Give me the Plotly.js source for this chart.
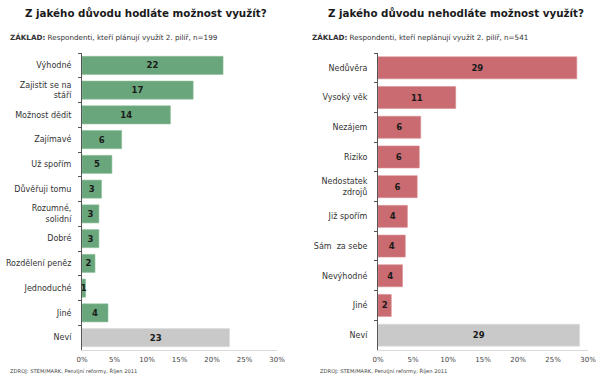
<!DOCTYPE html>
<html>
<head>
<meta charset="utf-8">
<script src="https://cdn.plot.ly/plotly-3.0.1.min.js"></script>
<style>html,body{margin:0;padding:0;background:#fff;}#chart{width:610px;height:378px;}</style>
</head>
<body>
<div id="chart"></div>
<script>
// Left chart: reasons for using the pillar
const leftCategories = ["Výhodné", "Zajistit se na<br>stáří", "Možnost dědit", "Zajímavé", "Už spořím", "Důvěřuji tomu", "Rozumné,<br>solidní", "Dobré", "Rozdělení peněz", "Jednoduché", "Jiné", "Neví"];
const leftValues = [21.7, 17.1, 13.6, 6.1, 4.6, 3.0, 2.6, 2.6, 2.0, 0.55, 4.0, 22.7];
const leftLabels = ["22", "17", "14", "6", "5", "3", "3", "3", "2", "1", "4", "23"];

// Right chart: reasons for not using the pillar
const rightCategories = ["Nedůvěra", "Vysoký věk", "Nezájem", "Riziko", "Nedostatek<br>zdrojů", "Již spořím", "Sám  za sebe", "Nevýhodné", "Jiné", "Neví"];
const rightValues = [28.4, 11.1, 6.1, 5.9, 5.6, 4.2, 3.9, 3.5, 1.9, 28.8];
const rightLabels = ["29", "11", "6", "6", "6", "4", "4", "4", "2", "29"];

const tickValues = [0, 5, 10, 15, 20, 25, 30];
const tickTexts = ["0%", "5%", "10%", "15%", "20%", "25%", "30%"];

const titleLeft = "Z jakého důvodu hodláte možnost využít?";
const titleRight = "Z jakého důvodu nehodláte možnost využít?";
const baseLeft = "<b>ZÁKLAD:</b> Respondenti, kteří plánují využít 2. pilíř, n=199";
const baseRight = "<b>ZÁKLAD:</b> Respondenti, kteří neplánují využít 2. pilíř, n=541";
const sourceText = "ZDROJ: STEM/MARK, Penzijní reformy, Říjen 2011";

const GREEN = "#6aa67b", RED = "#c96b70", GREY = "#c9c9c9";

function colors(n, c) { return Array.from({length: n}, (_, i) => i === n - 1 ? GREY : c); }
function lineColors(n, c) { return Array.from({length: n}, (_, i) => i === n - 1 ? "#dcdcdc" : c); }

const font = "DejaVu Sans, Verdana, sans-serif";

const traces = [
  {
    type: "bar", orientation: "h",
    x: leftValues, y: leftCategories,
    xaxis: "x", yaxis: "y",
    width: 0.73,
    marker: {color: colors(leftValues.length, GREEN), line: {color: lineColors(leftValues.length, "#8cbf99"), width: 0.6}},
    text: leftLabels, textposition: "inside", insidetextanchor: "middle",
    textangle: 0, constraintext: "none", cliponaxis: false,
    textfont: {family: font, size: 8.5, color: "#1a1a1a", weight: "bold"},
    hoverinfo: "skip"
  },
  {
    type: "bar", orientation: "h",
    x: rightValues, y: rightCategories,
    xaxis: "x2", yaxis: "y2",
    width: 0.74,
    marker: {color: colors(rightValues.length, RED), line: {color: lineColors(rightValues.length, "#d98f93"), width: 0.6}},
    text: rightLabels, textposition: "inside", insidetextanchor: "middle",
    textangle: 0, constraintext: "none", cliponaxis: false,
    textfont: {family: font, size: 8.5, color: "#1a1a1a", weight: "bold"},
    hoverinfo: "skip"
  }
];

const xCommon = {
  range: [0, 30], tickmode: "array", tickvals: tickValues, ticktext: tickTexts,
  showgrid: false, zeroline: false, showline: true, linecolor: "#dadada", linewidth: 1,
  ticks: "", tickfont: {family: font, size: 7, color: "#444"}, ticklabelstandoff: 3, fixedrange: true
};
const yCommon = {
  type: "category", autorange: "reversed",
  showgrid: false, zeroline: false, showline: true, linecolor: "#555", linewidth: 1,
  ticks: "outside", tickson: "boundaries", ticklen: 3, tickcolor: "#555",
  tickfont: {family: font, size: 8, color: "#333"}, ticklabelstandoff: 8, fixedrange: true
};

const layout = {
  width: 610, height: 378,
  margin: {l: 0, r: 0, t: 0, b: 0},
  paper_bgcolor: "#fff", plot_bgcolor: "#fff",
  showlegend: false,
  bargap: 0.27,
  xaxis: Object.assign({}, xCommon, {domain: [82/610, 277/610], anchor: "y"}),
  yaxis: Object.assign({}, yCommon, {domain: [28/378, 325/378], anchor: "x"}),
  xaxis2: Object.assign({}, xCommon, {domain: [378/610, 588/610], anchor: "y2"}),
  yaxis2: Object.assign({}, yCommon, {domain: [28/378, 325/378], anchor: "x2"}),
  annotations: [
    {text: titleLeft, xref: "paper", yref: "paper", x: 146/610, y: 1 - 13/378, xanchor: "center", yanchor: "middle", showarrow: false,
     font: {family: font, size: 10.3, color: "#1a1a1a", weight: "bold"}},
    {text: titleRight, xref: "paper", yref: "paper", x: 456/610, y: 1 - 13/378, xanchor: "center", yanchor: "middle", showarrow: false,
     font: {family: font, size: 10.3, color: "#1a1a1a", weight: "bold"}},
    {text: baseLeft, xref: "paper", yref: "paper", x: 8/610, y: 1 - 37/378, xanchor: "left", yanchor: "middle", showarrow: false,
     font: {family: font, size: 7.2, color: "#333"}},
    {text: baseRight, xref: "paper", yref: "paper", x: 310/610, y: 1 - 37/378, xanchor: "left", yanchor: "middle", showarrow: false,
     font: {family: font, size: 7.2, color: "#333"}},
    {text: sourceText, xref: "paper", yref: "paper", x: 8/610, y: 1 - 371/378, xanchor: "left", yanchor: "middle", showarrow: false,
     font: {family: font, size: 5.2, color: "#444"}},
    {text: sourceText, xref: "paper", yref: "paper", x: 318/610, y: 1 - 371/378, xanchor: "left", yanchor: "middle", showarrow: false,
     font: {family: font, size: 5.2, color: "#444"}}
  ]
};

Plotly.newPlot("chart", traces, layout, {displayModeBar: false, staticPlot: true});
</script>
</body>
</html>
